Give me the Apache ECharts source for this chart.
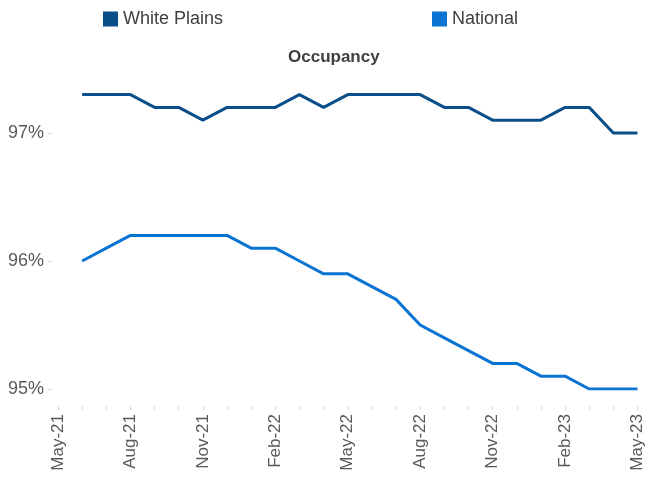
<!DOCTYPE html>
<html>
<head>
<meta charset="utf-8">
<script src="https://cdn.jsdelivr.net/npm/echarts@6/dist/echarts.min.js"></script>
<style>
html,body{margin:0;padding:0;background:#fff;}
#c{width:646px;height:482px;}
</style>
</head>
<body>
<div id="c"></div>
<script>
// Months on the date axis (May-21 .. May-23)
var months = ['May-21','Jun-21','Jul-21','Aug-21','Sep-21','Oct-21','Nov-21','Dec-21',
  'Jan-22','Feb-22','Mar-22','Apr-22','May-22','Jun-22','Jul-22','Aug-22','Sep-22','Oct-22',
  'Nov-22','Dec-22','Jan-23','Feb-23','Mar-23','Apr-23','May-23'];
// Occupancy (%) – data begins Jun-21
var whitePlains = [null,97.3,97.3,97.3,97.2,97.2,97.1,97.2,97.2,97.2,97.3,97.2,97.3,
  97.3,97.3,97.3,97.2,97.2,97.1,97.1,97.1,97.2,97.2,97.0,97.0];
var national = [null,96.0,96.1,96.2,96.2,96.2,96.2,96.2,96.1,96.1,96.0,95.9,95.9,
  95.8,95.7,95.5,95.4,95.3,95.2,95.2,95.1,95.1,95.0,95.0,95.0];
var yTicks = [95,96,97];

var FONT = 'Liberation Sans, Arial, sans-serif';
var chart = echarts.init(document.getElementById('c'), null, {renderer:'canvas'});
chart.setOption({
  animation:false,
  backgroundColor:'#ffffff',
  title:{
    text:'Occupancy', left:283, top:44,
    textStyle:{fontFamily:FONT,fontSize:17,fontWeight:'bold',color:'#404040'}
  },
  legend:[
    {data:['White Plains'], left:98, top:5, icon:'rect', itemWidth:15, itemHeight:15, itemGap:5,
     textStyle:{fontFamily:FONT,fontSize:18,color:'#404040'}},
    {data:['National'], left:427, top:5, icon:'rect', itemWidth:15, itemHeight:15, itemGap:5,
     textStyle:{fontFamily:FONT,fontSize:18,color:'#404040'}}
  ],
  grid:{left:58,right:7,top:69,bottom:93,containLabel:false},
  xAxis:{
    type:'category', data:months, boundaryGap:false, offset:17,
    axisLine:{show:false},
    axisTick:{show:true, interval:0, length:4, lineStyle:{color:'#d9d9d9'}},
    axisLabel:{interval:2, rotate:90, margin:8, fontFamily:FONT, fontSize:17, color:'#595959'},
    splitLine:{show:false}
  },
  yAxis:{
    type:'value', min:95, max:97.5, interval:1, offset:6,
    axisLine:{show:false},
    axisTick:{show:true, length:4, customValues:yTicks, lineStyle:{color:'#d9d9d9'}},
    splitLine:{show:false},
    axisLabel:{margin:8, fontFamily:FONT, fontSize:18, color:'#595959', customValues:yTicks,
      formatter:function(v){ return Math.round(v)+'%'; }}
  },
  series:[
    {name:'White Plains', type:'line', data:whitePlains, symbol:'none',
     itemStyle:{color:'#0b4f8a'}, lineStyle:{width:3,color:'#0b4f8a'}},
    {name:'National', type:'line', data:national, symbol:'none',
     itemStyle:{color:'#0a74d2'}, lineStyle:{width:3,color:'#0a74d2'}}
  ]
});
</script>
</body>
</html>
